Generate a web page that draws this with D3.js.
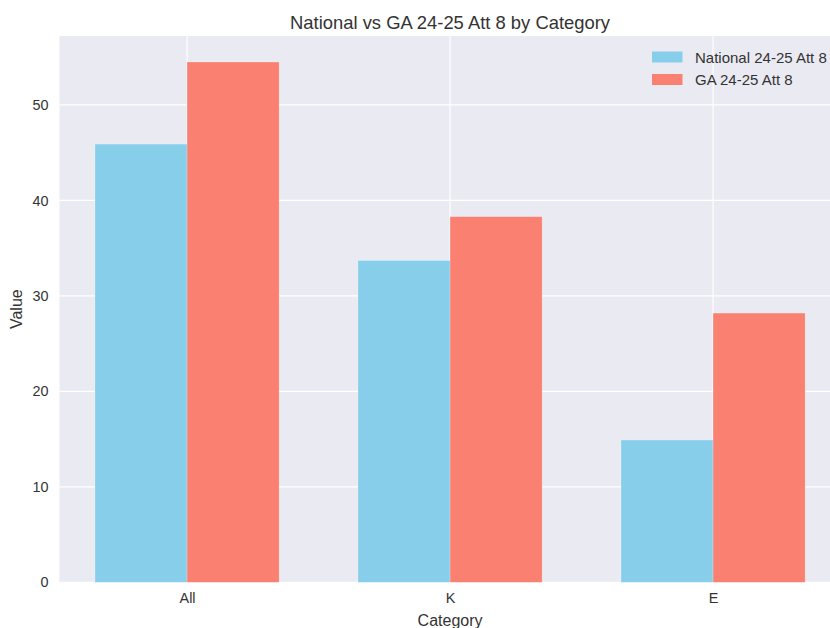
<!DOCTYPE html>
<html><head><meta charset="utf-8">
<script src="https://cdn.jsdelivr.net/npm/d3@7"></script>
<style>body{margin:0;background:#fff}svg{display:block;font-family:"Liberation Sans",Arial,sans-serif}</style>
</head><body><svg id="c" width="830" height="628"></svg>
<script>
const categories = ["All", "K", "E"];
const seriesNames = ["National 24-25 Att 8", "GA 24-25 Att 8"];
const nationalValues = [45.9, 33.7, 14.9];
const gaValues = [54.5, 38.3, 28.2];
const yTicks = [0, 10, 20, 30, 40, 50];
const colors = ["#87CEEB", "#FA8072"];

const svg = d3.select("#c");
const plotLeft = 59.5, plotTop = 36, plotBottom = 582.3;
const barW = 0.35;
const xMin = -0.485, xMax = 2.485;
const pxPerUnit = 263;
const x = d3.scaleLinear().domain([xMin, xMax]).range([plotLeft, plotLeft + (xMax - xMin) * pxPerUnit]);
const yMax = Math.max(...gaValues, ...nationalValues) * 1.05;
const y = d3.scaleLinear().domain([0, yMax]).range([plotBottom, plotTop]);
const plotRight = x(xMax);
const textColor = "#333";

svg.append("rect").attr("x", plotLeft).attr("y", plotTop).attr("width", plotRight - plotLeft).attr("height", plotBottom - plotTop).attr("fill", "#EAEAF2");

// grid
svg.append("g").selectAll("line").data(yTicks).join("line")
  .attr("x1", plotLeft).attr("x2", plotRight).attr("y1", d => y(d)).attr("y2", d => y(d))
  .attr("stroke", "#fff").attr("stroke-width", 1.2);
svg.append("g").selectAll("line").data(categories).join("line")
  .attr("x1", (d, i) => x(i)).attr("x2", (d, i) => x(i)).attr("y1", plotTop).attr("y2", plotBottom)
  .attr("stroke", "#fff").attr("stroke-width", 1.2);

const series = [nationalValues, gaValues];
series.forEach((vals, s) => {
  svg.append("g").selectAll("rect").data(vals).join("rect")
    .attr("x", (d, i) => x(i + (s === 0 ? -barW : 0)))
    .attr("width", x(barW) - x(0))
    .attr("y", d => y(d))
    .attr("height", d => y(0) - y(d))
    .attr("fill", colors[s])
    .attr("stroke", "#ffffff").attr("stroke-opacity", 0.35).attr("stroke-width", 0.6);
});

// axes
const yAxis = d3.axisLeft(y).tickValues(yTicks).tickSize(0).tickPadding(11).tickFormat(d3.format("d"));
const ya = svg.append("g").attr("transform", `translate(${plotLeft},0)`).call(yAxis);
ya.select(".domain").remove();
ya.selectAll("text").attr("font-size", 14.4).attr("fill", textColor).attr("font-family", "Liberation Sans, Arial, sans-serif");

const xAxis = d3.axisBottom(x).tickValues(categories.map((d, i) => i)).tickFormat(i => categories[i]).tickSize(0).tickPadding(10);
const xa = svg.append("g").attr("transform", `translate(0,${plotBottom})`).call(xAxis);
xa.select(".domain").remove();
xa.selectAll("text").attr("font-size", 14.4).attr("fill", textColor).attr("font-family", "Liberation Sans, Arial, sans-serif");

const cx = (plotLeft + plotRight) / 2;
svg.append("text").attr("x", cx).attr("y", 625.5).attr("text-anchor", "middle")
  .attr("font-size", 16).attr("fill", textColor).text("Category");
svg.append("text").attr("transform", `translate(22,${(plotTop + plotBottom) / 2}) rotate(-90)`).attr("text-anchor", "middle")
  .attr("font-size", 16).attr("fill", textColor).text("Value");
svg.append("text").attr("x", cx).attr("y", 28.5).attr("text-anchor", "middle")
  .attr("font-size", 18.4).attr("fill", textColor).text("National vs GA 24-25 Att 8 by Category");

// legend
const lg = svg.append("g");
seriesNames.forEach((n, i) => {
  lg.append("rect").attr("x", 652).attr("y", 51.5 + i * 22.5).attr("width", 30.5).attr("height", 11)
    .attr("fill", colors[i]);
  lg.append("text").attr("x", 695).attr("y", 62.5 + i * 22.5).attr("font-size", 15).attr("fill", textColor).text(n);
});
</script></body></html>
